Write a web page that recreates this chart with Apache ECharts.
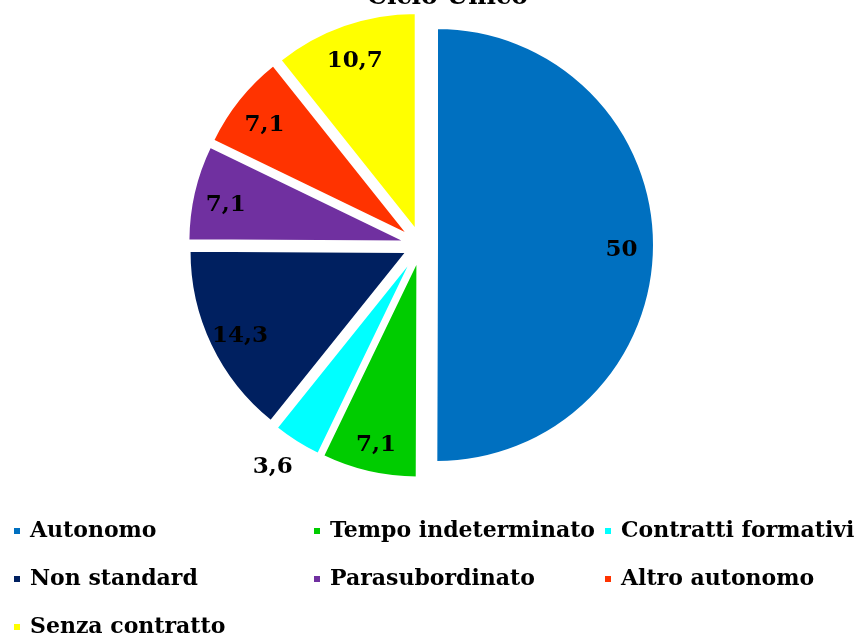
<!DOCTYPE html>
<html>
<head>
<meta charset="utf-8">
<script src="https://cdn.jsdelivr.net/npm/echarts@6/dist/echarts.min.js"></script>
<style>
  html, body { margin: 0; padding: 0; background: #fff; }
  #chart { width: 859px; height: 637px; }
</style>
</head>
<body>
<div id="chart"></div>
<script>
const title = 'Ciclo Unico'
const categories = ['Autonomo', 'Tempo indeterminato', 'Contratti formativi', 'Non standard', 'Parasubordinato', 'Altro autonomo', 'Senza contratto']
const values = [50, 7.1, 3.6, 14.3, 7.1, 7.1, 10.7]
const colors = ['#0070C0', '#00CC00', '#00FFFF', '#002060', '#7030A0', '#FF3300', '#FFFF00']
// legend columns as drawn
const legendCols = [
  ['Autonomo', 'Non standard', 'Senza contratto'],
  ['Tempo indeterminato', 'Parasubordinato'],
  ['Contratti formativi', 'Altro autonomo']
]

const font = 'DejaVu Serif'
const center = [421, 245]
const outerR = 217

const chart = echarts.init(document.getElementById('chart'))

const pieData = categories.map((name, i) => ({
  name: name,
  value: values[i],
  selected: true,
  itemStyle: { color: colors[i] }
}))

// transparent ring on top only to carry the labels near the rim
const labelData = categories.map((name, i) => ({
  name: name,
  value: values[i],
  selected: true,
  itemStyle: { color: 'rgba(0,0,0,0)' },
  label: values[i] < 5
    ? { position: 'outside', distance: 0 }
    : { position: 'inside' },
  labelLine: { show: false, length: 24, length2: 0 }
}))

const legendBase = {
  orient: 'vertical',
  icon: 'rect',
  itemWidth: 8,
  itemHeight: 8,
  itemGap: 26,
  padding: 0,
  top: 520,
  height: 200,
  selectedMode: false,
  textStyle: {
    fontFamily: font,
    fontWeight: 'bold',
    fontSize: 22,
    lineHeight: 21,
    padding: [0, 0, 0, 4],
    color: '#000'
  }
}

chart.setOption({
  animation: false,
  color: colors,
  title: {
    text: title,
    left: 367,
    top: -15,
    padding: 0,
    textStyle: { fontFamily: font, fontWeight: 'bold', fontSize: 25, color: '#000' }
  },
  legend: [
    Object.assign({}, legendBase, { left: 12, data: legendCols[0] }),
    Object.assign({}, legendBase, { left: 312, data: legendCols[1] }),
    Object.assign({}, legendBase, { left: 603, data: legendCols[2] })
  ],
  series: [
    {
      type: 'pie',
      center: center,
      radius: [0, outerR],
      startAngle: 90,
      clockwise: true,
      selectedMode: 'multiple',
      selectedOffset: 16,
      silent: true,
      itemStyle: { borderColor: '#fff', borderWidth: 2 },
      label: { show: false },
      labelLine: { show: false },
      emphasis: { disabled: true },
      data: pieData
    },
    {
      type: 'pie',
      center: center,
      radius: [146, outerR],
      startAngle: 90,
      clockwise: true,
      selectedMode: 'multiple',
      selectedOffset: 16,
      silent: true,
      emphasis: { disabled: true },
      label: {
        show: true,
        fontFamily: font,
        fontWeight: 'bold',
        fontSize: 23,
        color: '#000',
        formatter: (p) => String(p.value).replace('.', ',')
      },
      labelLayout: (p) => (p.dataIndex === 2 ? { dx: 14, dy: 5 } : { dy: 5 }),
      data: labelData
    }
  ]
})
</script>
</body>
</html>
